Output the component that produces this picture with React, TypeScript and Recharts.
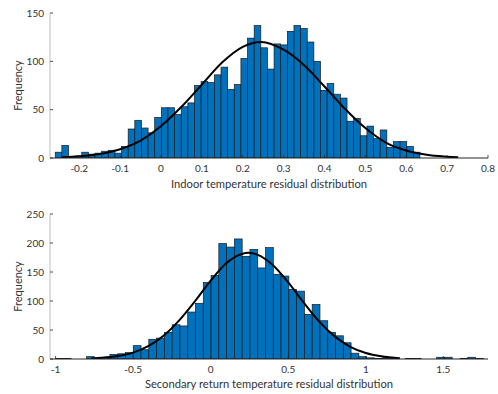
import { ComposedChart, Bar, Line, XAxis, YAxis } from 'recharts';

const FONT = 'Lato, "Liberation Sans", sans-serif';
const TEXT = '#333333';
const BAR_BLUE = '#0072BD';

// Indoor temperature residuals, 55 bins
const indoorBinStart = -0.2588;
const indoorBinWidth = 0.016225;
const indoorCounts = [
  6, 13, 1, 2, 6, 4, 5, 7, 8, 5, 12, 30, 39, 31, 26, 42, 52, 52, 45, 53, 57, 75, 79, 78, 86, 94, 71,
  76, 103, 124, 137, 114, 92, 118, 117, 131, 137, 134, 120, 100, 70, 77, 66, 62, 38, 41, 23, 33, 20,
  29, 11, 17, 17, 12, 6,
];
const indoorFitX = [-0.243, -0.2, -0.15, -0.1, -0.05, 0, 0.05, 0.1, 0.15, 0.2, 0.245, 0.3, 0.35, 0.4, 0.45, 0.5, 0.55, 0.6, 0.65, 0.7, 0.727];
const indoorFitY = [0.7, 1.7, 4.1, 9.1, 18, 33, 53, 76, 99, 115, 120, 112, 96, 74, 51, 31, 16, 7.8, 3.4, 1.4, 0.7];
const indoorXTicks = [-0.2, -0.1, 0, 0.1, 0.2, 0.3, 0.4, 0.5, 0.6, 0.7, 0.8];
const indoorYTicks = [0, 50, 100, 150];

// Secondary return temperature residuals, 55 bins
const returnBinStart = -1.0008;
const returnBinWidth = 0.05016;
const returnCounts = [
  1, 1, 0, 0, 4, 1, 3, 8, 9, 11, 23, 16, 34, 36, 46, 59, 57, 81, 96, 132, 144, 199, 193, 207, 177,
  189, 157, 192, 146, 143, 120, 117, 77, 94, 66, 46, 40, 28, 10, 4, 2, 1, 2, 1, 0, 1, 1, 0, 0, 3, 3,
  0, 1, 3, 1,
];
const returnFitX = [-0.77, -0.7, -0.6, -0.5, -0.4, -0.3, -0.2, -0.1, 0, 0.1, 0.2, 0.245, 0.3, 0.4, 0.5, 0.6, 0.7, 0.8, 0.9, 1.0, 1.1, 1.22];
const returnFitY = [1, 2, 5, 11, 22.5, 41, 67.5, 100, 135, 165, 181, 183, 180, 162, 132, 97, 64.5, 39, 21, 10.4, 4.6, 1.5];
const returnXTicks = [-1, -0.5, 0, 0.5, 1, 1.5];
const returnYTicks = [0, 50, 100, 150, 200, 250];

const toBins = (start: number, width: number, counts: number[]) =>
  counts.map((count, i) => ({ x: start + width * (i + 0.5), count }));
const toFit = (xs: number[], ys: number[]) => xs.map((x, i) => ({ x, y: ys[i] }));

function XTick({ x, y, payload }: any) {
  return (
    <g>
      <line x1={x} x2={x} y1={y} y2={y - 3} stroke="#262626" strokeWidth={0.8} />
      <text x={x} y={y + 14} textAnchor="middle" fontSize={10} fill={TEXT} fontFamily={FONT}>
        {payload.value}
      </text>
    </g>
  );
}

function YTick({ x, y, payload }: any) {
  return (
    <g>
      <line x1={x} x2={x + 3} y1={y} y2={y} stroke="#262626" strokeWidth={0.8} />
      <text x={x - 6} y={y + 3.5} textAnchor="end" fontSize={10} fill={TEXT} fontFamily={FONT}>
        {payload.value}
      </text>
    </g>
  );
}

// the numeric axis squeezes the band, so each bar is redrawn at the bin's pixel width
const binShape = (pxWidth: number) => (props: any) => {
  const { x, y, width, height } = props;
  if (!height || height <= 0) return <g />;
  const cx = x + width / 2;
  return (
    <rect
      x={cx - pxWidth / 2}
      y={y}
      width={pxWidth}
      height={height}
      fill={BAR_BLUE}
      stroke="#1a1a1a"
      strokeWidth={0.7}
    />
  );
};

interface HistProps {
  height: number;
  top: number;
  xAxisHeight: number;
  bins: { x: number; count: number }[];
  fit: { x: number; y: number }[];
  xDomain: [number, number];
  xTicks: number[];
  yDomain: [number, number];
  yTicks: number[];
  barPx: number;
  title: string;
  titleOffset: number;
}

function Histogram(p: HistProps) {
  return (
    <ComposedChart
      width={498}
      height={p.height}
      data={p.bins}
      margin={{ top: p.top, right: 10, left: 0, bottom: 0 }}
    >
      <XAxis
        type="number"
        dataKey="x"
        domain={p.xDomain}
        ticks={p.xTicks}
        allowDataOverflow
        height={p.xAxisHeight}
        tickSize={0}
        tickMargin={0}
        tickLine={false}
        tick={<XTick />}
        interval={0}
        axisLine={{ stroke: '#262626', strokeWidth: 1 }}
        label={{
          value: p.title,
          position: 'insideBottom',
          offset: p.titleOffset,
          fill: TEXT,
          fontSize: 11.2,
          fontFamily: FONT,
        }}
      />
      <YAxis
        type="number"
        domain={p.yDomain}
        ticks={p.yTicks}
        allowDataOverflow
        width={50}
        tickSize={0}
        tickMargin={0}
        tickLine={false}
        tick={<YTick />}
        interval={0}
        axisLine={{ stroke: '#bdbdbd', strokeWidth: 1 }}
        label={{
          value: 'Frequency',
          angle: -90,
          position: 'insideLeft',
          offset: 18,
          fill: TEXT,
          fontSize: 11,
          fontFamily: FONT,
          style: { textAnchor: 'middle' },
        }}
      />
      <Bar
        dataKey="count"
        fill={BAR_BLUE}
        shape={binShape(p.barPx)}
        isAnimationActive={false}
      />
      <Line
        data={p.fit}
        dataKey="y"
        type="monotone"
        stroke="#000"
        strokeWidth={2}
        dot={false}
        activeDot={false}
        isAnimationActive={false}
      />
    </ComposedChart>
  );
}

export default function App() {
  return (
    <div style={{ position: 'absolute', left: 0, top: 0, width: 498, height: 394, background: '#fff' }}>
      <Histogram
        height={200}
        top={13}
        xAxisHeight={42}
        bins={toBins(indoorBinStart, indoorBinWidth, indoorCounts)}
        fit={toFit(indoorFitX, indoorFitY)}
        xDomain={[-0.2716, 0.8]}
        xTicks={indoorXTicks}
        yDomain={[0, 150]}
        yTicks={indoorYTicks}
        barPx={6.63}
        title="Indoor temperature residual distribution"
        titleOffset={12}
      />
      <Histogram
        height={194}
        top={14}
        xAxisHeight={35}
        bins={toBins(returnBinStart, returnBinWidth, returnCounts)}
        fit={toFit(returnFitX, returnFitY)}
        xDomain={[-1.036, 1.788]}
        xTicks={returnXTicks}
        yDomain={[0, 250]}
        yTicks={returnYTicks}
        barPx={7.78}
        title="Secondary return temperature residual distribution"
        titleOffset={6}
      />
    </div>
  );
}
